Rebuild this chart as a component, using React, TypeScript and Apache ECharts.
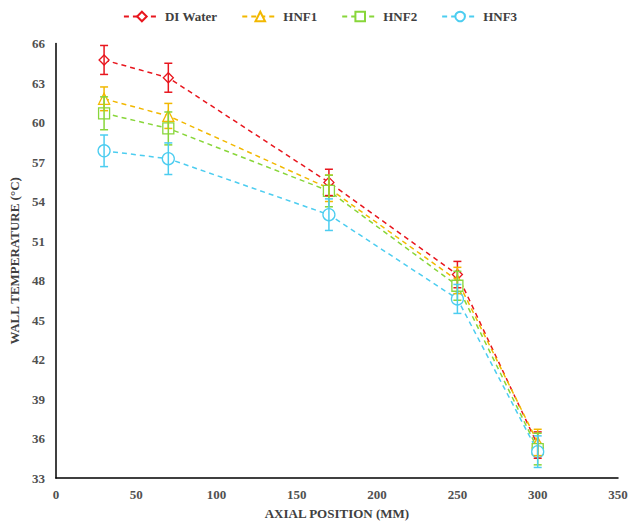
import React, { useEffect, useRef } from "react";
import * as echarts from "echarts";

const positions = [30, 70, 170, 250, 300];
const seriesNames = ["DI Water", "HNF1", "HNF2", "HNF3"];
const diWater = [64.75, 63.4, 55.45, 48.45, 35.5];
const hnf1 = [61.8, 60.5, 55.0, 48.0, 35.7];
const hnf2 = [60.7, 59.55, 54.8, 47.6, 35.2];
const hnf3 = [57.85, 57.25, 53.0, 46.6, 35.0];
const diErr = [1.1, 1.1, 1.0, 1.0, 1.0];
const hnf1Err = [0.9, 0.95, 1.0, 1.0, 1.0];
const hnf2Err = [1.25, 1.25, 1.2, 1.1, 1.2];
const hnf3Err = [1.2, 1.2, 1.2, 1.1, 1.2];

const colors = ["#E8161E", "#F2B800", "#88D63A", "#4CCDF0"];
const symbols = ["diamond", "triangle", "rect", "circle"];
const symbolSizes = [10, 11, 11, 12];

const FONT = "'Liberation Serif', 'Times New Roman', serif";

export default function App() {
  const ref = useRef<HTMLDivElement>(null);
  useEffect(() => {
    if (!ref.current) return;
    const chart = echarts.init(ref.current, null, { renderer: "svg" });
    const values = [diWater, hnf1, hnf2, hnf3];
    const errs = [diErr, hnf1Err, hnf2Err, hnf3Err];

    const lineSeries = values.map((vals, i) => ({
      name: seriesNames[i],
      type: "line",
      data: positions.map((x, j) => [x, vals[j]]),
      symbol: symbols[i],
      symbolSize: symbolSizes[i],
      showAllSymbol: true,
      color: colors[i],
      lineStyle: { color: colors[i], width: 1.5, type: [5, 4] },
      itemStyle: { color: "#ffffff", borderColor: colors[i], borderWidth: 1.3 },
      z: 2,
    }));

    const errSeries = values.map((vals, i) => ({
      name: seriesNames[i] + " error",
      type: "custom",
      data: positions.map((x, j) => [x, vals[j] - errs[i][j], vals[j] + errs[i][j]]),
      renderItem: (params: any, api: any) => {
        const x = api.value(0);
        const lo = api.coord([x, api.value(1)]);
        const hi = api.coord([x, api.value(2)]);
        const w = 4;
        const style = { stroke: colors[i], lineWidth: 1.5, fill: "none" };
        return {
          type: "group",
          children: [
            { type: "line", shape: { x1: lo[0], y1: lo[1], x2: hi[0], y2: hi[1] }, style },
            { type: "line", shape: { x1: lo[0] - w, y1: lo[1], x2: lo[0] + w, y2: lo[1] }, style },
            { type: "line", shape: { x1: hi[0] - w, y1: hi[1], x2: hi[0] + w, y2: hi[1] }, style },
          ],
        };
      },
      encode: { x: 0, y: [1, 2] },
      z: 3,
      silent: true,
    }));

    chart.setOption({
      animation: false,
      backgroundColor: "#ffffff",
      textStyle: { fontFamily: FONT },
      legend: {
        data: seriesNames,
        top: 5,
        left: "center",
        itemWidth: 36,
        itemHeight: 12,
        itemGap: 24,
        textStyle: { fontFamily: FONT, fontWeight: "bold", fontSize: 13, color: "#404040" },
      },
      grid: { left: 49, right: 22, top: 43.5, bottom: 50, containLabel: false },
      xAxis: {
        type: "value",
        min: 0,
        max: 350,
        interval: 50,
        name: "AXIAL POSITION (MM)",
        nameLocation: "middle",
        nameGap: 29,
        nameTextStyle: { fontFamily: FONT, fontWeight: "bold", fontSize: 13, color: "#404040" },
        axisLine: { show: true, lineStyle: { color: "#000000", width: 1.5 } },
        axisTick: { show: false },
        splitLine: { show: false },
        axisLabel: { fontFamily: FONT, fontWeight: "bold", fontSize: 13, color: "#505050", margin: 10 },
      },
      yAxis: {
        type: "value",
        min: 33,
        max: 66,
        interval: 3,
        name: "WALL TEMPERATURE (°C)",
        nameLocation: "middle",
        nameGap: 33,
        nameTextStyle: { fontFamily: FONT, fontWeight: "bold", fontSize: 13, color: "#404040" },
        axisLine: { show: true, lineStyle: { color: "#000000", width: 1.5 } },
        axisTick: { show: false },
        splitLine: { show: false },
        axisLabel: { fontFamily: FONT, fontWeight: "bold", fontSize: 13, color: "#505050", margin: 11 },
      },
      series: [...lineSeries, ...errSeries],
    });
    return () => chart.dispose();
  }, []);
  return (
    <div
      ref={ref}
      style={{ position: "fixed", left: 0, top: 0, width: 640, height: 528, background: "#fff" }}
    />
  );
}
